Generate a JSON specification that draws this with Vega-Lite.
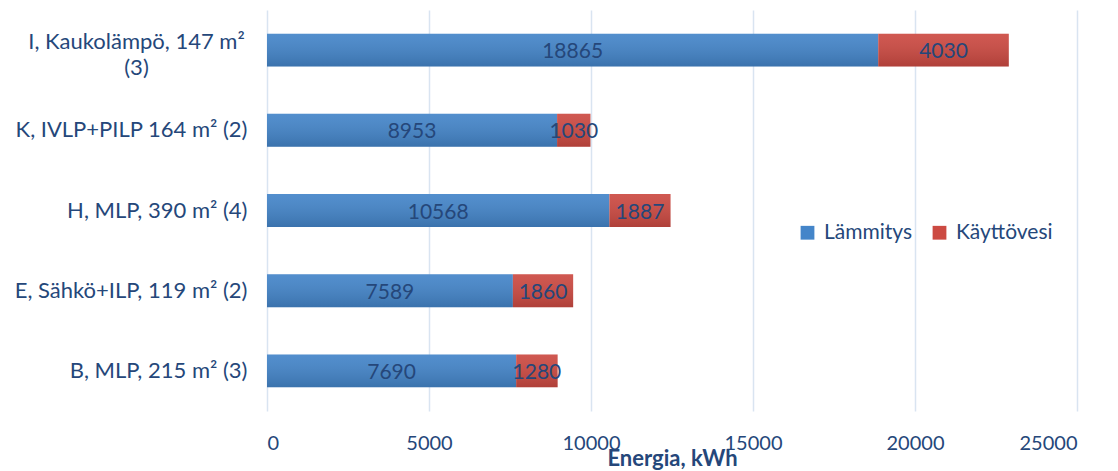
{
  "$schema": "https://vega.github.io/schema/vega-lite/v6.json",
  "width": 810,
  "height": 401,
  "autosize": {"type": "none"},
  "padding": {"left": 267, "top": 10, "right": 41, "bottom": 60},
  "background": "white",
  "config": {"view": {"stroke": null}, "font": "Lato"},
  "data": {
    "values": [
      {"house": "I, Kaukolämpö, 147 m² (3)", "type": "Lämmitys", "value": 18865},
      {"house": "I, Kaukolämpö, 147 m² (3)", "type": "Käyttövesi", "value": 4030},
      {"house": "K, IVLP+PILP 164 m² (2)", "type": "Lämmitys", "value": 8953},
      {"house": "K, IVLP+PILP 164 m² (2)", "type": "Käyttövesi", "value": 1030},
      {"house": "H, MLP, 390 m² (4)", "type": "Lämmitys", "value": 10568},
      {"house": "H, MLP, 390 m² (4)", "type": "Käyttövesi", "value": 1887},
      {"house": "E, Sähkö+ILP, 119 m² (2)", "type": "Lämmitys", "value": 7589},
      {"house": "E, Sähkö+ILP, 119 m² (2)", "type": "Käyttövesi", "value": 1860},
      {"house": "B, MLP, 215 m² (3)", "type": "Lämmitys", "value": 7690},
      {"house": "B, MLP, 215 m² (3)", "type": "Käyttövesi", "value": 1280}
    ]
  },
  "transform": [
    {"stack": "value", "groupby": ["house"], "sort": [{"field": "type", "order": "descending"}], "as": ["x0", "x1"]}
  ],
  "encoding": {
    "y": {
      "field": "house",
      "type": "nominal",
      "sort": ["I, Kaukolämpö, 147 m² (3)", "K, IVLP+PILP 164 m² (2)", "H, MLP, 390 m² (4)", "E, Sähkö+ILP, 119 m² (2)", "B, MLP, 215 m² (3)"],
      "scale": {"paddingInner": 0.59, "paddingOuter": 0.295},
      "axis": {
        "title": null,
        "domain": false,
        "ticks": false,
        "tickSize": 0,
        "labelFontSize": 22,
        "labelColor": "#25477a",
        "labelLimit": 400,
        "labelLineHeight": 26,
        "labelOffset": {"condition": {"test": "datum.value == 'I, Kaukolämpö, 147 m² (3)'", "value": -8}, "value": 0},
        "labelPadding": {"condition": {"test": "datum.value == 'I, Kaukolämpö, 147 m² (3)'", "value": 131}, "value": 20},
        "labelAlign": {"condition": {"test": "datum.value == 'I, Kaukolämpö, 147 m² (3)'", "value": "center"}, "value": "right"},
        "labelExpr": "datum.value == 'I, Kaukolämpö, 147 m² (3)' ? ['I, Kaukolämpö, 147 m²', '(3)'] : datum.label"
      }
    }
  },
  "layer": [
    {
      "mark": {"type": "bar"},
      "encoding": {
        "x": {
          "field": "x0",
          "type": "quantitative",
          "scale": {"domain": [0, 25000], "nice": false},
          "axis": {
            "title": "Energia, kWh",
            "titleFontSize": 22,
            "titleFontWeight": "bold",
            "titleColor": "#25477a",
            "titlePadding": -5,
            "values": [0, 5000, 10000, 15000, 20000, 25000],
            "format": "d",
            "domain": false,
            "ticks": false,
            "tickSize": 0,
            "grid": true,
            "gridColor": "#d9e4f1",
            "gridWidth": 1.5,
            "labelFontSize": 20,
            "labelColor": "#25477a",
            "labelPadding": 22
          }
        },
        "x2": {"field": "x1"},
        "color": {
          "field": "type",
          "type": "nominal",
          "scale": {"domain": ["Lämmitys", "Käyttövesi"], "range": ["#4485c9", "#cc4a42"]},
          "legend": {
            "title": null,
            "orient": "none",
            "legendX": 530,
            "legendY": 212,
            "direction": "horizontal",
            "symbolType": "square",
            "symbolSize": 190,
            "symbolStrokeWidth": 0,
            "labelFontSize": 21,
            "labelColor": "#25477a",
            "columnPadding": 16,
            "labelOffset": 6
          }
        }
      }
    },
    {
      "mark": {
        "type": "bar",
        "color": {"gradient": "linear", "x1": 0, "y1": 0, "x2": 0, "y2": 1, "stops": [{"offset": 0, "color": "rgba(255,255,255,0.08)"}, {"offset": 1, "color": "rgba(0,0,0,0.14)"}]}
      },
      "encoding": {
        "x": {"field": "x0", "type": "quantitative"},
        "x2": {"field": "x1"}
      }
    },
    {
      "mark": {"type": "text", "fontSize": 21, "color": "#25477a", "dy": 2, "x": {"expr": "scale('x', (datum.x0 + datum.x1) / 2)"}},
      "encoding": {
        "text": {"field": "value", "type": "quantitative", "format": "d"}
      }
    }
  ]
}
